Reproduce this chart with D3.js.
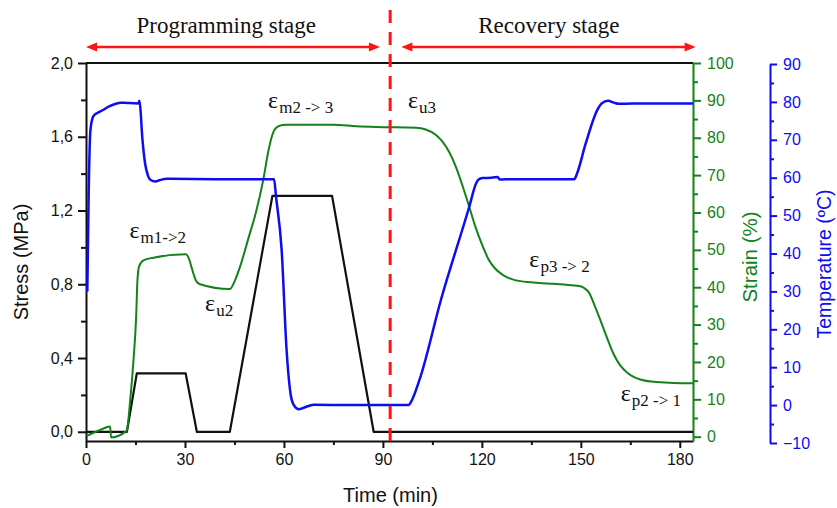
<!DOCTYPE html>
<html>
<head>
<meta charset="utf-8">
<script src="https://cdn.jsdelivr.net/npm/d3@7"></script>
<style>
  html, body { margin: 0; padding: 0; background: #fff; }
  svg { display: block; font-family: "Liberation Sans", Arial, sans-serif; }
</style>
</head>
<body>
<svg id="chart" width="837" height="508"></svg>
<script>
// Applied stress (MPa) against time (min)
const stressSeries = [
  [0, 0], [12.4, 0], [15.4, 0.317], [30.2, 0.317], [33.6, 0], [43.6, 0],
  [56.5, 1.279], [74.6, 1.279], [87.2, 0], [184, 0]
];

// Strain (%) against time (min)
const strainSeries = [
  [0.2, 0.2], [4.3, 1.8], [7.3, 2.7], [7.6, -0.2], [11.9, 1.3], [12.4, 1.8],
  [13.4, 9.8], [14.4, 20.5], [15.2, 32], [15.6, 42], [16.1, 45.6], [17.4, 47.2],
  [20.4, 47.9], [30.3, 48.8], [33.6, 41.4], [34.6, 40.8], [43.6, 39.5],
  [45, 41.5], [46.7, 45.5], [49.2, 53], [51.5, 60], [53.7, 68.6], [55.3, 76.5],
  [56.5, 80.8], [57.8, 82.8], [59.5, 83.4], [61, 83.5], [75, 83.5], [82, 83.1],
  [88, 82.9], [100, 82.7], [103, 82.2], [106, 80.8], [108, 79.0], [110, 76.3],
  [112, 72.5], [114, 67.5], [116, 62], [118, 56.3], [120, 51.5], [122, 47.5],
  [124, 45], [126, 43.5], [128, 42.5], [130, 41.9], [135, 41.3], [140, 41.0],
  [145, 40.7], [149.5, 40.3], [151, 39.8], [152.5, 38.5], [154, 35.5], [156, 31],
  [158, 26.3], [160, 22], [162, 19], [164, 17.2], [166, 16.0], [168, 15.3],
  [172, 14.7], [178, 14.4], [184, 14.3]
];

// Temperature (°C) against time (min)
const temperatureSeries = [
  [0.4, 30], [0.8, 55], [1.3, 72], [2.0, 75.8], [2.5, 76.5], [3.3, 77], [5, 77.8],
  [7, 78.8], [9, 79.5], [10.4, 79.8], [12.5, 79.7], [15.8, 79.6], [16.2, 80.3],
  [16.6, 77], [16.9, 72.6], [17.9, 63.8], [18.8, 60.5], [19.6, 59.4], [21, 59],
  [22.5, 59.4], [24.5, 59.7], [40, 59.6], [57, 59.6], [57.6, 55], [59.3, 41],
  [60.8, 14.6], [62, 3], [63, 0], [64.5, -1.1], [66, -0.7], [69, 0.1], [80, 0],
  [97.8, 0], [98.3, 0.5], [101.1, 6.7], [107.6, 27.8], [116.2, 52.4],
  [118.2, 58.4], [119, 59.5], [120.2, 59.9], [123, 60], [124.8, 60.2],
  [125.4, 59.5], [127, 59.6], [148, 59.6], [148.8, 61], [151.5, 69.1],
  [155, 77.9], [156.3, 79.6], [158.3, 80.3], [160, 79.8], [161.6, 79.5],
  [170, 79.6], [184, 79.6]
];

const timeTicks = [0, 30, 60, 90, 120, 150, 180];
const timeMinorTicks = [15, 45, 75, 105, 135, 165];
const stressTicks = [0, 0.4, 0.8, 1.2, 1.6, 2.0];
const stressMinorTicks = [0.2, 0.6, 1.0, 1.4, 1.8];
const strainTicks = [0, 10, 20, 30, 40, 50, 60, 70, 80, 90, 100];
const strainMinorTicks = [5, 15, 25, 35, 45, 55, 65, 75, 85, 95];
const temperatureTicks = [-10, 0, 10, 20, 30, 40, 50, 60, 70, 80, 90];
const temperatureMinorTicks = [-5, 5, 15, 25, 35, 45, 55, 65, 75, 85];

// Boundary between the two stages (min), their spans and title positions
const stageBoundary = 92.2;
const stageNames = ["Programming stage", "Recovery stage"];
const stageSpans = [[0, 89.1], [95.6, 184.8]];
const stageTitleTimes = [42.5, 140.3];

// Strain markers: subscript, time (min) and strain (%) of the label anchor
const markerSubs = ["m1->2", "u2", "m2 -> 3", "u3", "p3 -> 2", "p2 -> 1"];
const markerTimes = [13.2, 36.1, 55.2, 97.6, 134.4, 162.1];
const markerStrains = [53.1, 33.6, 88.0, 88.0, 45.5, 9.6];

const GREEN = "#13821a";
const BLUE = "#0d0df2";
const RED = "#ff1414";

const svg = d3.select("#chart");
const plot = { left: 86, right: 693, top: 63, bottom: 441 };

const x = d3.scaleLinear().domain([0, 184]).range([plot.left, plot.right]);
const yStress = d3.scaleLinear().domain([-0.05, 2.0]).range([plot.bottom, plot.top]);
const yStrain = d3.scaleLinear().domain([-1.15, 100]).range([plot.bottom, plot.top]);
const yTemp = d3.scaleLinear().domain([-10, 90]).range([443, 64]);

const comma = d => d.toFixed(1).replace(".", ",");

function styleAxis(g, color, width) {
  g.selectAll(".domain").attr("stroke", color).attr("stroke-width", width);
  g.selectAll(".tick line").attr("stroke", color).attr("stroke-width", width);
  g.selectAll(".tick text").attr("fill", color)
    .style("font-family", "'Liberation Sans', Arial, sans-serif")
    .style("font-size", "16px");
}

// Frame top edge
svg.append("line")
  .attr("x1", plot.left).attr("x2", plot.right)
  .attr("y1", plot.top).attr("y2", plot.top)
  .attr("stroke", "#111").attr("stroke-width", 2);

// Bottom time axis
const gx = svg.append("g").attr("transform", `translate(0,${plot.bottom})`);
gx.call(d3.axisBottom(x).tickValues(timeTicks).tickSize(7).tickSizeOuter(0).tickPadding(6));
styleAxis(gx, "#111", 2);
const gxm = svg.append("g").attr("transform", `translate(0,${plot.bottom})`);
gxm.call(d3.axisBottom(x).tickValues(timeMinorTicks).tickSize(4).tickFormat(""));
gxm.select(".domain").remove();
styleAxis(gxm, "#111", 2);

// Left stress axis
const gl = svg.append("g").attr("transform", `translate(${plot.left},0)`);
gl.call(d3.axisLeft(yStress).tickValues(stressTicks).tickFormat(comma).tickSize(8).tickSizeOuter(0).tickPadding(5));
styleAxis(gl, "#111", 2);
const glm = svg.append("g").attr("transform", `translate(${plot.left},0)`);
glm.call(d3.axisLeft(yStress).tickValues(stressMinorTicks).tickSize(5).tickFormat(""));
glm.select(".domain").remove();
styleAxis(glm, "#111", 2);

// Right strain axis
const gs = svg.append("g").attr("transform", `translate(${plot.right},0)`);
gs.call(d3.axisRight(yStrain).tickValues(strainTicks).tickSize(8).tickSizeOuter(0).tickPadding(6));
styleAxis(gs, GREEN, 2);
const gsm = svg.append("g").attr("transform", `translate(${plot.right},0)`);
gsm.call(d3.axisRight(yStrain).tickValues(strainMinorTicks).tickSize(5).tickFormat(""));
gsm.select(".domain").remove();
styleAxis(gsm, GREEN, 2);

// Outer temperature axis
const tempAxisX = 770;
const gt = svg.append("g").attr("transform", `translate(${tempAxisX},0)`);
gt.call(d3.axisRight(yTemp).tickValues(temperatureTicks).tickSize(7).tickSizeOuter(0).tickPadding(6));
styleAxis(gt, BLUE, 2);
const gtm = svg.append("g").attr("transform", `translate(${tempAxisX},0)`);
gtm.call(d3.axisRight(yTemp).tickValues(temperatureMinorTicks).tickSize(4).tickFormat(""));
gtm.select(".domain").remove();
styleAxis(gtm, BLUE, 2);

// Axis titles
svg.append("text")
  .attr("x", (plot.left + plot.right) / 2 + 1).attr("y", 502)
  .attr("text-anchor", "middle").style("font-size", "20px").attr("fill", "#111")
  .text("Time (min)");
svg.append("text")
  .attr("transform", `translate(28,${(plot.top + plot.bottom) / 2 + 10}) rotate(-90)`)
  .attr("text-anchor", "middle").style("font-size", "20px").attr("fill", "#111")
  .text("Stress (MPa)");
svg.append("text")
  .attr("transform", `translate(757,${(plot.top + plot.bottom) / 2 + 5}) rotate(-90)`)
  .attr("text-anchor", "middle").style("font-size", "20.5px").attr("fill", GREEN)
  .text("Strain (%)");
svg.append("text")
  .attr("transform", `translate(831,${(plot.top + plot.bottom) / 2 + 12}) rotate(-90)`)
  .attr("text-anchor", "middle").style("font-size", "19.5px").attr("fill", BLUE)
  .text("Temperature (ºC)");

// Curves
const stressLine = d3.line().x(d => x(d[0])).y(d => yStress(d[1]));
const strainLine = d3.line().x(d => x(d[0])).y(d => yStrain(d[1])).curve(d3.curveMonotoneX);
const tempLine = d3.line().x(d => x(d[0])).y(d => yTemp(d[1])).curve(d3.curveMonotoneX);

svg.append("path").datum(stressSeries).attr("d", stressLine)
  .attr("fill", "none").attr("stroke", "#111").attr("stroke-width", 2.2)
  .attr("stroke-linejoin", "round");
svg.append("path").datum(strainSeries).attr("d", strainLine)
  .attr("fill", "none").attr("stroke", GREEN).attr("stroke-width", 2)
  .attr("stroke-linejoin", "round");
svg.append("path").datum(temperatureSeries).attr("d", tempLine)
  .attr("fill", "none").attr("stroke", BLUE).attr("stroke-width", 2.5)
  .attr("stroke-linejoin", "round");

// Stage boundary
svg.append("line")
  .attr("x1", x(stageBoundary)).attr("x2", x(stageBoundary))
  .attr("y1", 10).attr("y2", plot.bottom)
  .attr("stroke", RED).attr("stroke-width", 3).attr("stroke-dasharray", "13,9");

// Stage spans: double-headed arrows with titles
const arrowY = 47, head = 11, halfW = 4.5;
stageSpans.forEach((span, i) => {
  const x0 = x(span[0]), x1 = x(span[1]);
  svg.append("line")
    .attr("x1", x0 + head - 1).attr("x2", x1 - head + 1)
    .attr("y1", arrowY).attr("y2", arrowY)
    .attr("stroke", RED).attr("stroke-width", 2.6);
  svg.append("path")
    .attr("d", `M${x0},${arrowY} L${x0 + head},${arrowY - halfW} L${x0 + head},${arrowY + halfW} Z`)
    .attr("fill", RED);
  svg.append("path")
    .attr("d", `M${x1},${arrowY} L${x1 - head},${arrowY - halfW} L${x1 - head},${arrowY + halfW} Z`)
    .attr("fill", RED);
  svg.append("text")
    .attr("x", x(stageTitleTimes[i])).attr("y", 33)
    .attr("text-anchor", "middle")
    .style("font-family", "'Liberation Serif', 'Times New Roman', serif")
    .style("font-size", "23px").attr("fill", "#111")
    .text(stageNames[i]);
});

// Strain markers
markerSubs.forEach((sub, i) => {
  const t = svg.append("text")
    .attr("x", x(markerTimes[i])).attr("y", yStrain(markerStrains[i]))
    .style("font-family", "'Liberation Serif', 'Times New Roman', serif")
    .attr("fill", "#111");
  t.append("tspan").style("font-size", "24px").text("ε");
  t.append("tspan").attr("dx", 1).attr("dy", 5).style("font-size", "17px").text(sub);
});
</script>
</body>
</html>
